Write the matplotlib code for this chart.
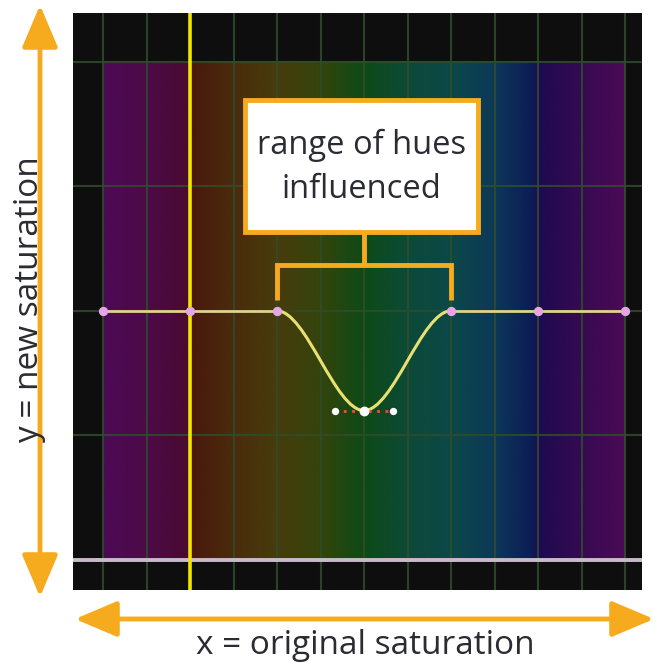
import numpy as np
import matplotlib.pyplot as plt
from matplotlib.colors import LinearSegmentedColormap
from matplotlib.patches import FancyArrowPatch, Rectangle, PathPatch
from matplotlib.path import Path

plt.rcParams['font.family'] = ['Open Sans', 'DejaVu Sans']

# pontos de controle da curva (x = saturação original, y = nova saturação)
pontos_x = [0, 2, 4, 8, 10, 12]
pontos_y = [2, 2, 2, 2, 2, 2]
vale_x, vale_y = 6, 1.2
alcas_x = [5.33, 6.67]
linha_amarela_x = 2
faixa_inicio, faixa_fim = 4, 8

# paradas de cor da faixa de matizes (posição em x, cor)
paradas_pos = [0, 1, 1.97, 2.03, 3, 4, 5, 6, 7, 8, 9, 9.85, 10.05, 11, 12]
paradas_cor = ['#4c0a56', '#4c0a48', '#4a0a30', '#4a180c', '#4a2c0c', '#473c0c',
               '#34440c', '#0e4a16', '#0c4a38', '#0c4848', '#0c3858', '#0c1c56',
               '#1e0a50', '#360a52', '#4c0a56']

fig = plt.figure(figsize=(6.55, 6.66), dpi=100)
ax = fig.add_axes([73/655, 1 - 590/666, 569/655, 577/666])
ax.set_facecolor('#0e0e0e')
ax.set_xlim(-0.69, 12.39)
ax.set_ylim(-0.24, 4.39)
for s in ax.spines.values():
    s.set_visible(False)
ax.set_xticks([])
ax.set_yticks([])

# faixa de matizes
mapa = LinearSegmentedColormap.from_list(
    'matiz', list(zip(np.array(paradas_pos) / 12, paradas_cor)), N=512)
ax.imshow(np.linspace(0, 1, 512)[None, :], cmap=mapa, aspect='auto',
          extent=[0, 12, 0, 4], zorder=1, interpolation='bilinear')

# grade
for gx in range(13):
    ax.axvline(gx, color='#2f4d2b', lw=1.5, alpha=0.85, zorder=2)
for gy in range(1, 5):
    ax.axhline(gy, color='#2f4d2b', lw=1.5, alpha=0.85, zorder=2)
ax.axhline(0, color='#c8bcc8', lw=2.8, zorder=2)

ax.axvline(linha_amarela_x, color='#f2e600', lw=2.6, zorder=3)

# curva: trechos retos + vale em bezier
ax.plot([pontos_x[0], faixa_inicio], [2, 2], color='#dcd48a', lw=2.0, zorder=4)
ax.plot([faixa_fim, pontos_x[-1]], [2, 2], color='#dcd48a', lw=2.0, zorder=4)
verts = [(faixa_inicio, 2), (faixa_inicio + 0.67, 2), (alcas_x[0], vale_y), (vale_x, vale_y),
         (alcas_x[1], vale_y), (faixa_fim - 0.67, 2), (faixa_fim, 2)]
codes = [Path.MOVETO] + [Path.CURVE4] * 6
ax.add_patch(PathPatch(Path(verts, codes), facecolor='none', edgecolor='#e8e070',
                       lw=2.2, zorder=4))

ax.plot(alcas_x, [vale_y, vale_y], color='#e0553c', lw=2, ls=(0, (1, 2)), zorder=5)
ax.scatter(alcas_x, [vale_y, vale_y], s=28, color='white', zorder=6, linewidths=0)
ax.scatter([vale_x], [vale_y], s=50, color='white', zorder=6, linewidths=0)
ax.scatter(pontos_x, pontos_y, s=45, color='#e4a6e4', zorder=6, linewidths=0)

# caixa de anotação
laranja = '#f6ab1e'
texto_cor = '#2b2b33'
ax.add_patch(Rectangle((3.26, 2.63), 5.36, 1.06, facecolor='white', edgecolor=laranja,
                       lw=3.5, zorder=7))
ax.text(5.95, 3.33, 'range of hues', ha='center', va='center', fontsize=23.5,
        color=texto_cor, zorder=8)
ax.text(5.95, 2.97, 'influenced', ha='center', va='center', fontsize=23.5,
        color=texto_cor, zorder=8)
ax.plot([6, 6], [2.63, 2.37], color=laranja, lw=3.5, zorder=7, solid_capstyle='butt')
ax.plot([faixa_inicio, faixa_inicio, faixa_fim, faixa_fim], [2.09, 2.37, 2.37, 2.09],
        color=laranja, lw=3.5, zorder=7, solid_joinstyle='miter', solid_capstyle='butt')

# setas dos eixos
estilo = '<|-|>,head_length=2.6,head_width=1.1'
fig.add_artist(FancyArrowPatch((40/655, 1 - 5/666), (40/655, 1 - 597/666),
                               transform=fig.transFigure, arrowstyle=estilo,
                               mutation_scale=10, color=laranja, lw=3.5,
                               shrinkA=0, shrinkB=0))
fig.add_artist(FancyArrowPatch((75/655, 1 - 619/666), (654/655, 1 - 619/666),
                               transform=fig.transFigure, arrowstyle=estilo,
                               mutation_scale=10, color=laranja, lw=3.5,
                               shrinkA=0, shrinkB=0))

fig.text(30/655, 1 - 300/666, 'y = new saturation', rotation=90, ha='center',
         va='center', fontsize=24, color=texto_cor)
fig.text(365/655, 1 - 645/666, 'x = original saturation', ha='center', va='center',
         fontsize=24, color=texto_cor)

fig.savefig('out.png', dpi=100)
